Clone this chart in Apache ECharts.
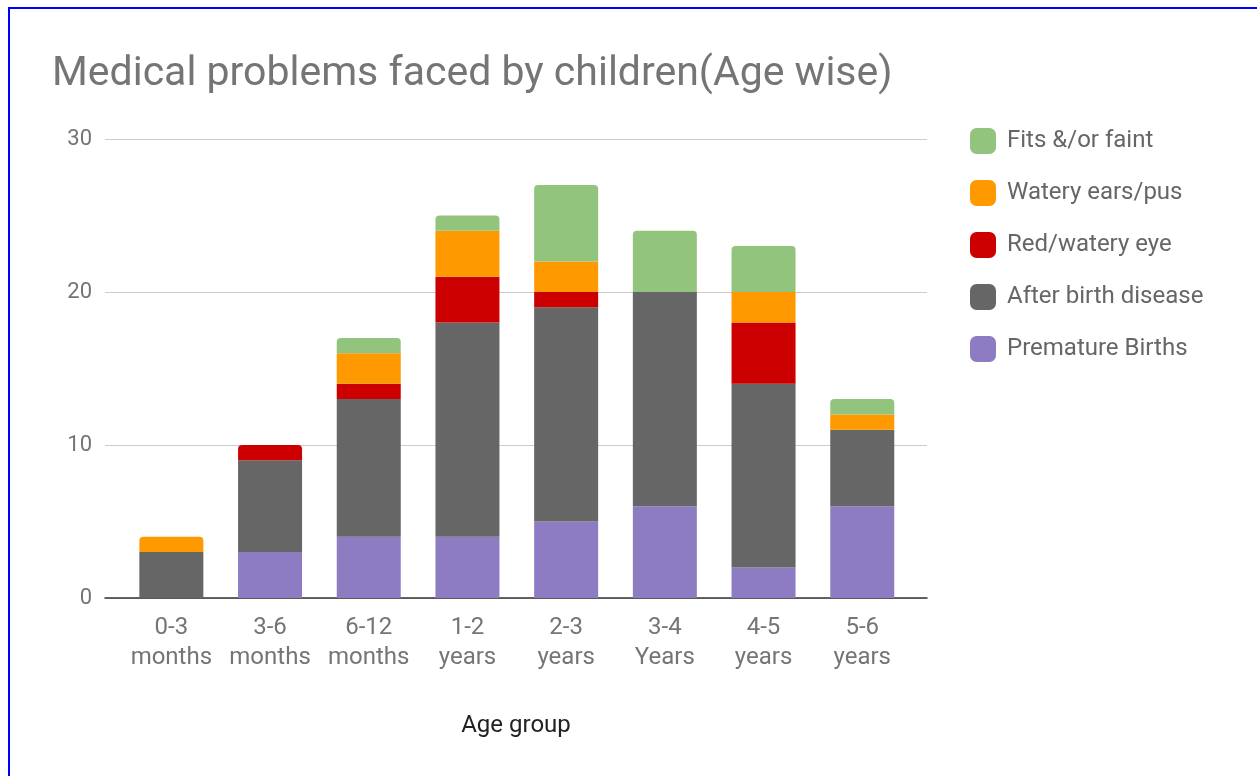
<!DOCTYPE html>
<html>
<head>
<meta charset="utf-8">
<script src="https://cdn.jsdelivr.net/npm/echarts@6/dist/echarts.min.js"></script>
<style>
  html, body { margin: 0; padding: 0; background: #fff; }
  #frame {
    position: absolute; left: 8px; top: 7px; width: 1300px; height: 800px;
    border-left: 2px solid #0000ff; border-top: 2px solid #0000ff;
  }
  #chart { position: absolute; left: 0; top: 0; width: 1257px; height: 776px; }
</style>
</head>
<body>
<div id="frame"></div>
<div id="chart"></div>
<script>
// 年龄段
const ageGroups = [
  '0-3\nmonths', '3-6\nmonths', '6-12\nmonths', '1-2\nyears',
  '2-3\nyears', '3-4\nYears', '4-5\nyears', '5-6\nyears',
];
// 每个系列的数值（从下往上堆叠）
const prematureBirths = [0, 3, 4, 4, 5, 6, 2, 6];
const afterBirthDisease = [3, 6, 9, 14, 14, 14, 12, 5];
const redWateryEye = [0, 1, 1, 3, 1, 0, 4, 0];
const wateryEarsPus = [1, 0, 2, 3, 2, 0, 2, 1];
const fitsOrFaint = [0, 0, 1, 1, 5, 4, 3, 1];
const yTicks = [0, 10, 20, 30];

const seriesDefs = [
  { name: 'Premature Births', data: prematureBirths, color: '#8e7cc3' },
  { name: 'After birth disease', data: afterBirthDisease, color: '#666666' },
  { name: 'Red/watery eye', data: redWateryEye, color: '#cc0000' },
  { name: 'Watery ears/pus', data: wateryEarsPus, color: '#ff9900' },
  { name: 'Fits &/or faint', data: fitsOrFaint, color: '#93c47d' },
];

// 找出每根柱子最上面的系列，给它加圆角
const topIndex = ageGroups.map((_, i) => {
  let top = -1;
  seriesDefs.forEach((s, k) => { if (s.data[i] > 0) top = k; });
  return top;
});

const font = 'Roboto, sans-serif';
const yMax = yTicks[yTicks.length - 1];

const myChart = echarts.init(document.getElementById('chart'));
const option = {
  animation: false,
  title: {
    text: 'Medical problems faced by children(Age wise)',
    left: 47,
    top: 49,
    textStyle: { fontFamily: font, fontSize: 41, fontWeight: 'normal', color: '#757575' },
  },
  legend: {
    orient: 'vertical',
    left: 965,
    top: 123,
    itemWidth: 26,
    itemHeight: 26,
    itemGap: 26,
    icon: 'roundRect',
    data: ['Fits &/or faint', 'Watery ears/pus', 'Red/watery eye', 'After birth disease', 'Premature Births'],
    textStyle: { fontFamily: font, fontSize: 24, color: '#666', padding: [0, 0, 0, 6] },
  },
  grid: [
    { left: 105, right: 330, top: 139, bottom: 178 },
    { left: 122, width: 789.6, top: 139, bottom: 178 },
  ],
  xAxis: [
    {
      gridIndex: 0,
      type: 'category',
      data: ageGroups,
      axisLine: { lineStyle: { color: '#333', width: 1.5 } },
      axisTick: { show: false },
      axisLabel: { show: false },
      name: 'Age group',
      nameLocation: 'middle',
      nameGap: 116,
      nameTextStyle: { fontFamily: font, fontSize: 24, color: '#222' },
    },
    {
      gridIndex: 1,
      type: 'category',
      data: ageGroups,
      axisLine: { show: false },
      axisTick: { show: false },
      axisLabel: {
        interval: 0,
        margin: 15,
        fontFamily: font,
        fontSize: 24,
        lineHeight: 30,
        color: '#757575',
      },
    },
  ],
  yAxis: [
    {
      gridIndex: 0,
      type: 'value',
      min: 0,
      max: yMax,
      interval: 10,
      axisLine: { show: false },
      axisTick: { show: false },
      splitLine: { lineStyle: { color: '#cccccc' } },
      axisLabel: { margin: 13, fontFamily: font, fontSize: 22, color: '#757575' },
    },
    {
      gridIndex: 1,
      type: 'value',
      min: 0,
      max: yMax,
      interval: 10,
      show: false,
      splitLine: { show: false },
    },
  ],
  series: seriesDefs.map((s, k) => ({
    name: s.name,
    type: 'bar',
    stack: 'total',
    xAxisIndex: 1,
    yAxisIndex: 1,
    barWidth: 64,
    itemStyle: { color: s.color },
    data: s.data.map((v, i) => ({
      value: v,
      itemStyle: topIndex[i] === k ? { borderRadius: [4, 4, 0, 0] } : {},
    })),
  })),
};
myChart.setOption(option);
</script>
</body>
</html>
